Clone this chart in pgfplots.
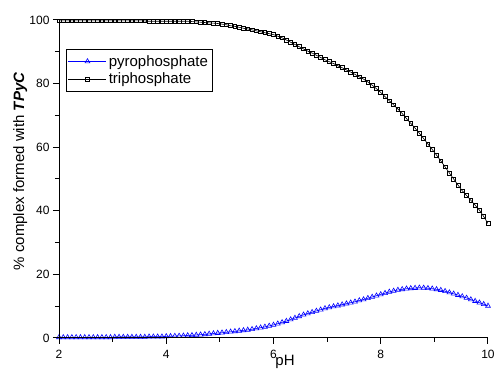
\documentclass[border=0pt]{standalone}
\usepackage{pgfplots}
\pgfplotsset{compat=1.18}
\usepackage{pgfplotstable}
\usepackage{fontspec}
\setmainfont{Liberation Sans}
\pgfplotstableread{
x tri pyro
2.00 99.7 0.2
2.08 99.7 0.2
2.16 99.7 0.2
2.24 99.7 0.2
2.32 99.7 0.2
2.40 99.7 0.2
2.48 99.7 0.2
2.56 99.7 0.2
2.64 99.7 0.2
2.72 99.7 0.2
2.80 99.7 0.2
2.88 99.7 0.2
2.96 99.7 0.2
3.04 99.7 0.3
3.12 99.7 0.3
3.20 99.7 0.3
3.28 99.7 0.3
3.36 99.7 0.3
3.44 99.7 0.3
3.52 99.7 0.3
3.60 99.7 0.3
3.68 99.6 0.4
3.76 99.6 0.4
3.84 99.6 0.4
3.92 99.6 0.4
4.00 99.6 0.5
4.08 99.6 0.55
4.16 99.6 0.6
4.24 99.6 0.65
4.32 99.6 0.7
4.40 99.6 0.8
4.48 99.5 0.85
4.56 99.4 0.95
4.64 99.3 1.05
4.72 99.2 1.15
4.80 99.1 1.3
4.88 99.0 1.4
4.96 98.9 1.55
5.04 98.7 1.65
5.12 98.5 1.8
5.20 98.2 1.95
5.28 98.0 2.1
5.36 97.7 2.25
5.44 97.4 2.4
5.52 97.2 2.55
5.60 96.9 2.75
5.68 96.6 3.0
5.76 96.3 3.25
5.84 96.0 3.5
5.92 95.7 3.8
6.00 95.4 4.1
6.08 94.9 4.5
6.16 94.4 4.9
6.24 93.7 5.3
6.32 93.0 5.8
6.40 92.3 6.3
6.48 91.6 6.8
6.56 90.9 7.3
6.64 90.2 7.7
6.72 89.6 8.1
6.80 88.9 8.5
6.88 88.2 8.9
6.96 87.5 9.3
7.04 86.9 9.6
7.12 86.3 9.9
7.20 85.6 10.2
7.28 85.0 10.5
7.36 84.3 10.8
7.44 83.6 11.1
7.52 82.9 11.4
7.60 82.1 11.8
7.68 81.4 12.1
7.76 80.5 12.5
7.84 79.5 12.9
7.92 78.4 13.3
8.00 77.2 13.7
8.08 75.9 14.1
8.16 74.6 14.5
8.24 73.3 14.8
8.32 72.0 15.1
8.40 70.6 15.3
8.48 69.0 15.5
8.56 67.5 15.6
8.64 66.0 15.7
8.72 64.4 15.8
8.80 62.7 15.75
8.88 61.0 15.65
8.96 59.3 15.5
9.04 57.5 15.3
9.12 55.7 15.05
9.20 53.8 14.7
9.28 51.9 14.3
9.36 50.0 13.9
9.44 48.1 13.5
9.52 46.3 13.05
9.60 44.8 12.6
9.68 43.3 12.1
9.76 41.8 11.6
9.84 40.2 11.1
9.92 38.2 10.6
10.00 36.0 10.1
}\datatable
\begin{document}
\begin{tikzpicture}
\useasboundingbox (0,0) rectangle (496pt,371pt);
\begin{axis}[
  at={(59pt,33pt)}, anchor=south west,
  scale only axis, width=429pt, height=318pt,
  xmin=2, xmax=10, ymin=0, ymax=100,
  axis line style={draw=none},
  xtick={2,4,6,8,10}, ytick={0,20,40,60,80,100},
  minor xtick={3,5,7,9}, minor ytick={10,30,50,70,90},
  xtick pos=bottom, ytick pos=left,
  tick align=outside,
  major tick length=6pt, minor tick length=4pt,
  every tick/.style={black, line width=1pt},
  /pgf/number format/assume math mode=true,
  tick label style={font=\fontsize{12}{14}\selectfont},
  xticklabel style={yshift=-3pt},
  xlabel={pH},
  xlabel style={at={(axis description cs:0.527,0)}, anchor=base, yshift=-28pt, font=\fontsize{15}{17}\selectfont, inner sep=0pt},
  ylabel={\% complex formed with \textbf{\textit{TPyC}}},
  ylabel style={at={(axis description cs:0,0.524)}, anchor=north, yshift=46pt, font=\fontsize{15}{17}\selectfont, inner sep=0pt},
  legend style={at={(axis description cs:0.016,0.909)}, anchor=north west,
    draw=black, line width=0.6pt, font=\fontsize{15}{17}\selectfont,
    inner xsep=2pt, inner ysep=4pt, row sep=1.5pt, cells={anchor=west}},
  legend cell align=left,
  legend image code/.code={\draw[#1, mark repeat=2, mark phase=2] plot coordinates {(0pt,0pt) (19pt,0pt) (38pt,0pt)};},
  after end axis/.code={
    \draw[black, line width=1pt] (rel axis cs:0,1) -- (rel axis cs:0,0) -- (rel axis cs:1,0);
    \foreach \t in {2,4,6,8,10} {\draw[black, line width=1pt] (axis cs:\t,0) -- ++(0pt,-6pt);}
    \foreach \t in {3,5,7,9} {\draw[black, line width=1pt] (axis cs:\t,0) -- ++(0pt,-4pt);}
    \foreach \t in {0,20,40,60,80,100} {\draw[black, line width=1pt] (axis cs:2,\t) -- ++(-6pt,0pt);}
    \foreach \t in {10,30,50,70,90} {\draw[black, line width=1pt] (axis cs:2,\t) -- ++(-4pt,0pt);}
  },
]
\addplot[blue, line width=0.6pt, mark=triangle, mark size=2.8pt, mark options={solid, blue, fill=white, line width=0.6pt}] table[x=x, y=pyro] {\datatable};
\addlegendentry{pyrophosphate}
\addplot[black, line width=0.6pt, mark=square, mark size=1.9pt, mark options={solid, black, fill=white, line width=0.7pt}] table[x=x, y=tri] {\datatable};
\addlegendentry{triphosphate}
\end{axis}
\end{tikzpicture}
\end{document}
